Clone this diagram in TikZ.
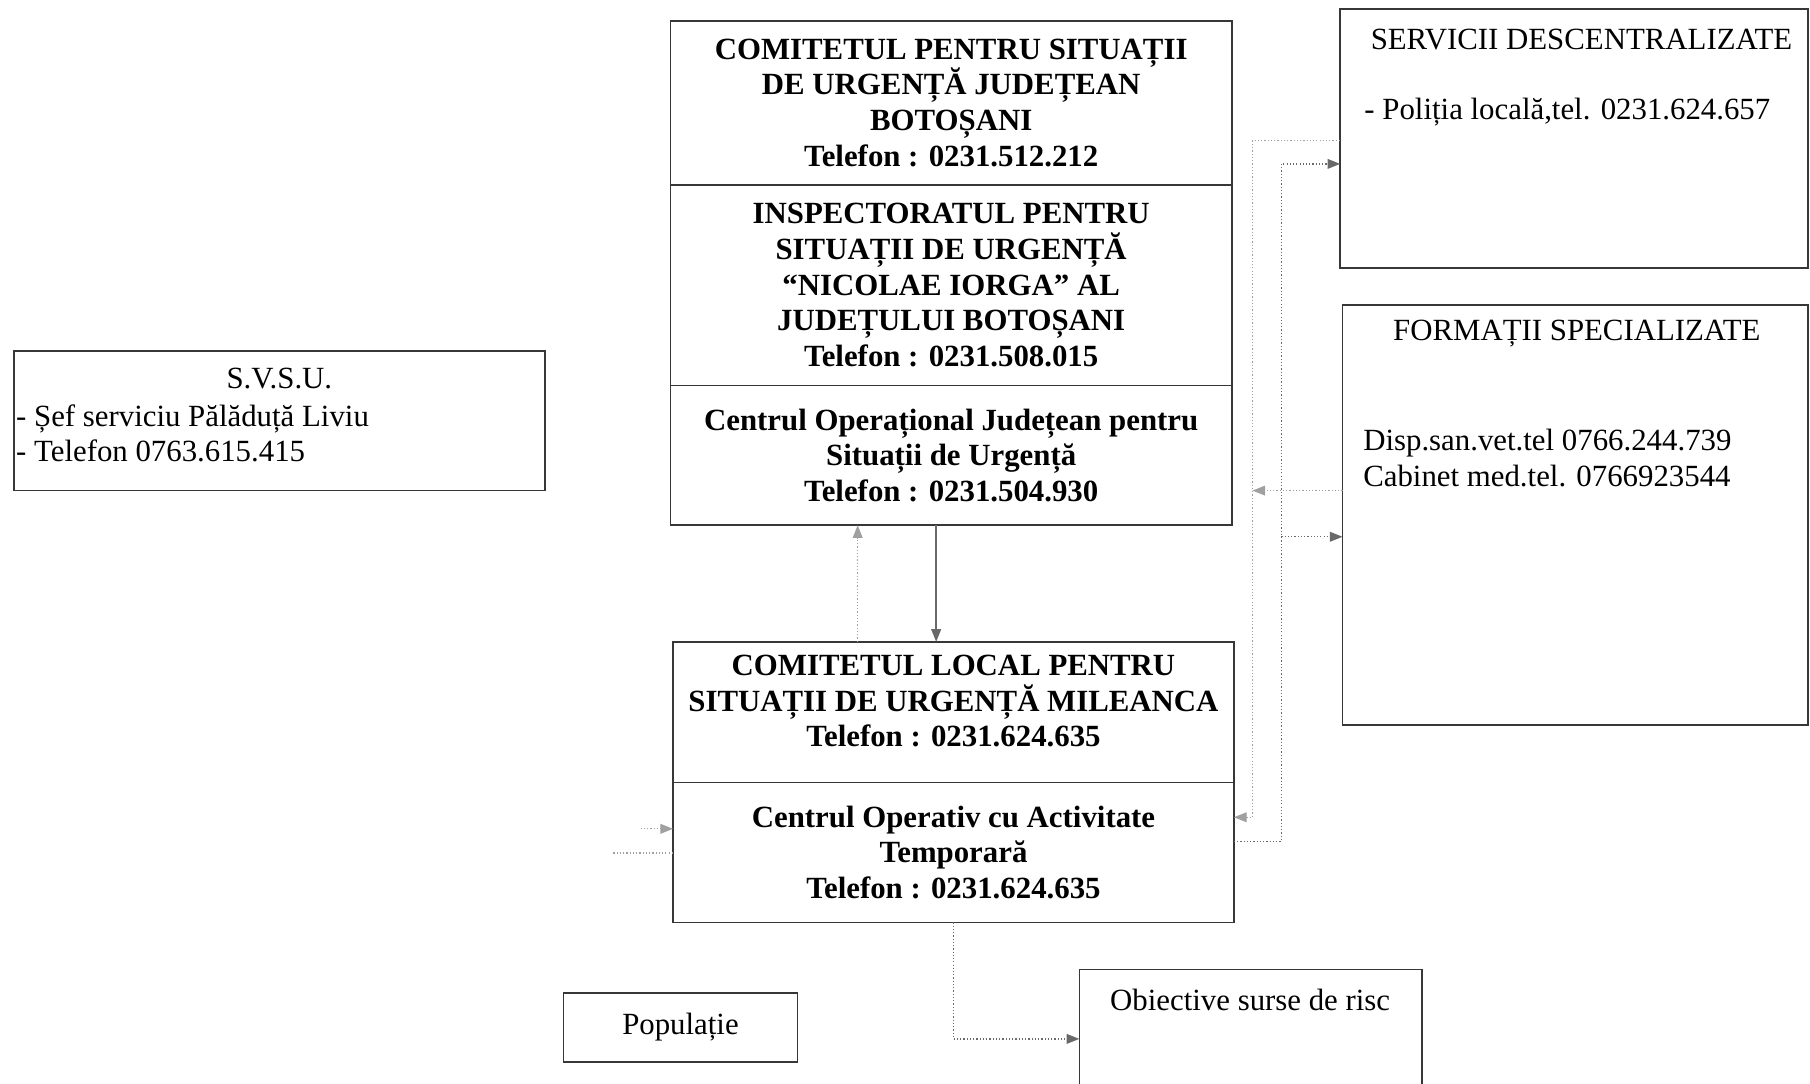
\documentclass[tikz,border=0pt]{standalone}
\usepackage{fontspec}
\setmainfont{Liberation Serif}
\usetikzlibrary{arrows.meta}
\definecolor{boxline}{RGB}{55,55,55}
\definecolor{dotgrey}{RGB}{160,160,160}
\definecolor{dotdark}{RGB}{105,105,105}
\newcommand{\pxu}{0.02cm}

\begin{document}
\begin{tikzpicture}[x=0.02cm, y=-0.02cm,
    every node/.style={font=\fontsize{15.2}{17.6}\selectfont, inner sep=0pt, outer sep=0pt},
    box/.style={draw=boxline, line width=0.8pt, rectangle},
    mainbox/.style={box, align=center, font=\fontsize{15.2}{17.6}\selectfont\bfseries, minimum width=486*\pxu},
    lightline/.style={draw=dotgrey, densely dotted, line width=0.6pt},
    darkline/.style={draw=dotdark, densely dotted, line width=0.6pt},
    solidline/.style={draw=dotdark, line width=0.7pt},
    endtip/.style={-{Triangle[length=0.22cm, width=0.17cm]}}]
    \useasboundingbox (0,0) rectangle (1568,939);
    \clip (0,0) rectangle (1568,939);
    \node[mainbox, minimum height=142*\pxu] (cjsu) at (824,89) {COMITETUL PENTRU SITUAȚII\\DE URGENȚĂ JUDEȚEAN\\BOTOȘANI\\Telefon : 0231.512.212};
    \node[mainbox, minimum height=174*\pxu] (isu) at (824,247) {INSPECTORATUL PENTRU\\SITUAȚII DE URGENȚĂ\\“NICOLAE IORGA” AL\\JUDEȚULUI BOTOȘANI\\Telefon : 0231.508.015};
    \node[mainbox, minimum height=121*\pxu] (cjo) at (824,394.5) {Centrul Operațional Județean pentru\\Situații de Urgență\\Telefon : 0231.504.930};
    \node[mainbox, minimum height=122*\pxu, text depth=11pt] (clsu) at (826,617) {COMITETUL LOCAL PENTRU\\SITUAȚII DE URGENȚĂ MILEANCA\\Telefon : 0231.624.635};
    \node[mainbox, minimum height=121*\pxu] (coat) at (826,738.5) {Centrul Operativ cu Activitate\\Temporară\\Telefon : 0231.624.635};
    \node[box, minimum width=460*\pxu, minimum height=121*\pxu] (svsu) at (242,364.5) {};
    \node (svsuT) at (242,328) {S.V.S.U.};
    \node[anchor=west, align=left] (svsuL) at (14,375.5) {- Șef serviciu Pălăduță Liviu\\- Telefon 0763.615.415};
    \node[box, minimum width=405*\pxu, minimum height=224*\pxu] (servicii) at (1363.5,120) {};
    \node (serviciiT) at (1370,34) {SERVICII DESCENTRALIZATE};
    \node[anchor=west] (serviciiL) at (1182,97) {- Poliția locală,tel. 0231.624.657};
    \node[box, minimum width=403*\pxu, minimum height=364*\pxu] (formatii) at (1364.5,446) {};
    \node (formatiiT) at (1366,289) {FORMAȚII SPECIALIZATE};
    \node[anchor=west, align=left] (formatiiL) at (1181,396.5) {Disp.san.vet.tel 0766.244.739\\Cabinet med.tel. 0766923544};
    \node[box, minimum width=203*\pxu, minimum height=60*\pxu] (populatie) at (589.5,890) {Populație};
    \node[box, minimum width=297*\pxu, minimum height=140*\pxu] (obiective) at (1083.5,910) {};
    \node (obiectiveT) at (1083,866) {Obiective surse de risc};
    \coordinate (fork) at (1110,465);
    \coordinate (join) at (1085,425);
    \coordinate (leftin) at (555,718);
    \coordinate (leftout) at (530,739);
    \draw[lightline, endtip] (clsu.north -| 743,0) -- (cjo.south -| 743,0);
    \draw[solidline, endtip] (cjo.south -| 811,0) -- (clsu.north -| 811,0);
    \draw[lightline, endtip] (servicii.west |- 0,122) -| (1085,708) -- (coat.east |- 0,708);
    \draw[darkline, endtip] (coat.east |- 0,729) -| (1110,142) -- (servicii.west |- 0,142);
    \draw[darkline, endtip] (fork) -- (formatii.west |- fork);
    \draw[lightline, endtip] (formatii.west |- join) -- (join);
    \draw[lightline, endtip] (leftin) -- (coat.west |- leftin);
    \draw[lightline] (coat.west |- leftout) -- (leftout);
    \draw[darkline, endtip] (coat.south) |- (obiective.west |- 0,900);
\end{tikzpicture}
\end{document}
